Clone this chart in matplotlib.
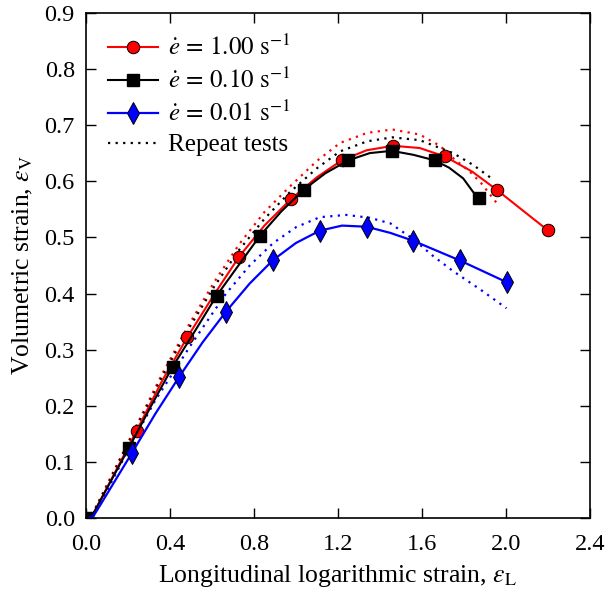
import numpy as np
import matplotlib
matplotlib.use('Agg')
import matplotlib.pyplot as plt

plt.rcParams['font.family'] = ['Liberation Serif', 'DejaVu Serif']
plt.rcParams['mathtext.fontset'] = 'stix'
plt.rcParams['font.size'] = 17.5

# strain-rate 1.00 /s
x_r = [0, 0.01, 0.04, 0.08, 0.241, 0.36, 0.482, 0.61, 0.730, 0.85, 0.976, 1.10,
       1.218, 1.337, 1.463, 1.59, 1.710, 1.84, 1.956, 2.067, 2.199]
y_r = [0, 0.0, 0.012, 0.04, 0.156, 0.243, 0.322, 0.398, 0.466, 0.521, 0.568, 0.607,
       0.637, 0.655, 0.663, 0.659, 0.644, 0.617, 0.585, 0.552, 0.513]
mk_r = [0, 4, 6, 8, 10, 12, 14, 16, 18, 20]

# strain-rate 0.10 /s
x_k = [0, 0.01, 0.04, 0.08, 0.205, 0.31, 0.413, 0.52, 0.622, 0.73, 0.829, 0.93,
       1.038, 1.14, 1.249, 1.352, 1.456, 1.559, 1.662, 1.73, 1.797, 1.844, 1.873]
y_k = [0, 0.0, 0.012, 0.04, 0.126, 0.2, 0.270, 0.334, 0.396, 0.452, 0.503, 0.546,
       0.585, 0.614, 0.637, 0.650, 0.654, 0.647, 0.637, 0.624, 0.605, 0.581, 0.570]
mk_k = [0, 4, 6, 8, 10, 12, 14, 16, 18, 22]

# strain-rate 0.01 /s
x_b = [0, 0.035, 0.07, 0.218, 0.33, 0.444, 0.555, 0.667, 0.78, 0.892, 1.0, 1.114,
       1.22, 1.337, 1.45, 1.559, 1.781, 2.006]
y_b = [0, 0.004, 0.025, 0.116, 0.186, 0.252, 0.313, 0.368, 0.418, 0.460, 0.490, 0.512,
       0.521, 0.519, 0.508, 0.494, 0.459, 0.420]
mk_b = [3, 5, 7, 9, 11, 13, 15, 16, 17]

# repeat tests
x_rr = [0, 0.01, 0.04, 0.08, 0.24, 0.36, 0.48, 0.61, 0.73, 0.85, 0.97, 1.10, 1.21,
        1.34, 1.46, 1.59, 1.686, 1.749, 1.829, 1.884, 1.959]
y_rr = [0, 0.0, 0.015, 0.045, 0.165, 0.255, 0.338, 0.42, 0.488, 0.545, 0.590, 0.636, 0.668,
        0.686, 0.692, 0.683, 0.663, 0.641, 0.617, 0.596, 0.560]
x_kr = [0, 0.01, 0.04, 0.08, 0.24, 0.36, 0.48, 0.61, 0.73, 0.85, 0.97, 1.10, 1.21,
        1.34, 1.46, 1.59, 1.749, 1.844, 1.932]
y_kr = [0, 0.0, 0.014, 0.043, 0.162, 0.25, 0.332, 0.412, 0.478, 0.533, 0.580, 0.623, 0.653,
        0.671, 0.678, 0.673, 0.650, 0.629, 0.605]
x_br = [0, 0.035, 0.07, 0.218, 0.33, 0.444, 0.495, 0.667, 0.78, 0.892, 1.0, 1.114,
        1.241, 1.35, 1.45, 1.559, 1.65, 1.749, 1.876, 2.003]
y_br = [0, 0.004, 0.028, 0.134, 0.21, 0.276, 0.306, 0.400, 0.450, 0.490, 0.518, 0.536,
        0.540, 0.535, 0.525, 0.497, 0.468, 0.440, 0.408, 0.374]

labels = [r'$\dot{e}\,=\,1.00\ \mathrm{s}^{-1}$',
          r'$\dot{e}\,=\,0.10\ \mathrm{s}^{-1}$',
          r'$\dot{e}\,=\,0.01\ \mathrm{s}^{-1}$',
          'Repeat tests']

fig = plt.figure(figsize=(6.08, 5.98), dpi=100)
ax = fig.add_axes([0.1414, 0.133, 0.8286, 0.846])

dots = (0, (1, 2.4))
ax.plot(x_br, y_br, linestyle=dots, color='blue', lw=1.6)
ax.plot(x_rr, y_rr, linestyle=dots, color='red', lw=1.6)
l_rep, = ax.plot(x_kr, y_kr, linestyle=dots, color='black', lw=1.6)

l_r, = ax.plot(x_r, y_r, '-', color='red', lw=1.5, marker='o', markevery=mk_r,
               markersize=9, markerfacecolor='red', markeredgecolor='black',
               markeredgewidth=0.7)
l_k, = ax.plot(x_k, y_k, '-', color='black', lw=1.5, marker='s', markevery=mk_k,
               markersize=8, markerfacecolor='black', markeredgecolor='black')
l_b, = ax.plot(x_b, y_b, '-', color='blue', lw=1.6, marker='d', markevery=mk_b,
               markersize=11, markerfacecolor='blue', markeredgecolor='black',
               markeredgewidth=0.7)

ax.legend([l_r, l_k, l_b, l_rep], labels, loc='upper left', frameon=False,
          handlelength=2.0, handletextpad=0.4, labelspacing=0.3,
          borderaxespad=0.5, fontsize=18)

ax.set_xlim(0, 2.4)
ax.set_ylim(0, 0.9)
ax.set_xticks(np.arange(0, 2.41, 0.4))
ax.set_yticks(np.arange(0, 0.91, 0.1))
ax.xaxis.set_major_formatter(matplotlib.ticker.FormatStrFormatter('%.1f'))
ax.yaxis.set_major_formatter(matplotlib.ticker.FormatStrFormatter('%.1f'))
ax.tick_params(direction='in', length=7, width=1, top=True, right=True, pad=8)
ax.tick_params(axis='x', pad=11)
for s in ax.spines.values():
    s.set_linewidth(1.2)

ax.set_xlabel(r'Longitudinal logarithmic strain, $\varepsilon_{\mathrm{L}}$',
              fontsize=18.5, labelpad=6)
ax.set_ylabel(r'Volumetric strain, $\varepsilon_{\mathrm{V}}$',
              fontsize=18.5, labelpad=7)

fig.savefig('out.png', dpi=100)
